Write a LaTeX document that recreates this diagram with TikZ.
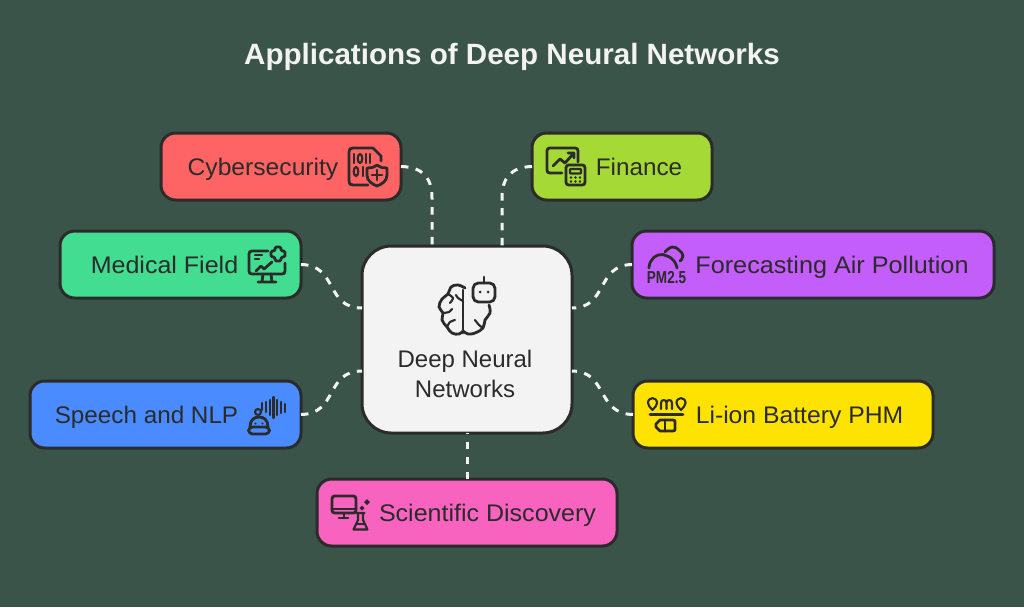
\documentclass[tikz,border=0pt]{standalone}
\usepackage{fontspec}
\setmainfont{Liberation Sans}
\definecolor{bgc}{HTML}{3B5449}
\definecolor{ink}{HTML}{2B2B2B}
\definecolor{linkc}{HTML}{F3F3F3}
\definecolor{redc}{HTML}{FF6464}
\definecolor{limec}{HTML}{A5D936}
\definecolor{mintc}{HTML}{42DD90}
\definecolor{purc}{HTML}{C35EFB}
\definecolor{bluc}{HTML}{4A8BFF}
\definecolor{yelc}{HTML}{FFE300}
\definecolor{pinkc}{HTML}{F763BE}
\definecolor{cenc}{HTML}{F3F3F3}
\tikzset{
  card/.style={draw=ink,line width=2.25pt,rounded corners=11pt,inner sep=0pt,outer sep=0pt},
  dims/.style n args={2}{minimum width=#1*0.75pt,minimum height=#2*0.75pt},
  lab/.style={anchor=base,text=ink,inner sep=0pt,font=\fontsize{18}{22}\selectfont},
  link/.style={draw=linkc,line width=2.25pt,dash pattern=on 5.6pt off 5.6pt},
  ico/.style={draw=ink,line width=2.1pt,line cap=round,line join=round},
  thin ico/.style={draw=ink,line width=1.6pt,line cap=round,line join=round},
  dotm/.style={fill=ink,draw=none},
}
\begin{document}
\begin{tikzpicture}[x=0.75pt,y=-0.75pt]
\useasboundingbox (0,0) rectangle (1024,607);
\fill[bgc] (0,0) rectangle (1024,607);
\node[anchor=base,text=linkc,inner sep=0pt,xscale=1.008,font=\bfseries\fontsize{22}{26}\selectfont] (title) at (512,64) {Applications of Deep Neural Networks};
% boxes
\node[card,dims={210}{187},fill=cenc,rounded corners=22pt] (cen) at (467,339.5) {};
\node[card,dims={240}{67},fill=redc] (cyb) at (281,166.5) {};
\node[card,dims={180}{67},fill=limec] (fin) at (622,166.5) {};
\node[card,dims={241}{67},fill=mintc] (med) at (180.5,264.5) {};
\node[card,dims={362}{67},fill=purc] (air) at (813,264.5) {};
\node[card,dims={271}{67},fill=bluc] (spe) at (165.5,414.5) {};
\node[card,dims={300}{67},fill=yelc] (bat) at (783,414.5) {};
\node[card,dims={300}{67},fill=pinkc] (sci) at (467,512.5) {};
% connector ends on the centre node
\coordinate (c1) at (432,246);
\coordinate (c2) at (502,246);
\coordinate (c3) at (362,308);
\coordinate (c4) at (572,308);
\coordinate (c5) at (362,371);
\coordinate (c6) at (572,371);
% connectors
\draw[link] (cyb.east) .. controls (423,167) and (432,178) .. (432,198) -- (c1);
\draw[link] (fin.west) .. controls (511,167) and (502,178) .. (502,198) -- (c2);
\draw[link] (med.east) .. controls (338,265) and (325,308) .. (c3);
\draw[link] (air.west) .. controls (596,265) and (608,308) .. (c4);
\draw[link] (spe.east) .. controls (338,414) and (325,371) .. (c5);
\draw[link] (bat.west) .. controls (596,414) and (608,371) .. (c6);
\draw[link] (sci.north) -- (cen.south);
% labels
\node[lab,xscale=1.027] (tcyb) at (263,175) {Cybersecurity};
\node[lab,xscale=1.012] (tfin) at (639,175) {Finance};
\node[lab,xscale=1.043] (tmed) at (164.5,273) {Medical Field};
\node[lab,xscale=1.05] (tair) at (832,273) {Forecasting Air Pollution};
\node[lab,xscale=1.011] (tspe) at (146.5,423) {Speech and NLP};
\node[lab,xscale=1.03] (tbat) at (799.5,423) {Li-ion Battery PHM};
\node[lab,xscale=1.043] (tsci) at (487.5,521) {Scientific Discovery};
\node[lab] (tc1) at (465,367) {Deep Neural};
\node[lab] (tc2) at (465,397) {Networks};
% cyber icon
\draw[ico] (368,185) -- (353,185) .. controls (350,185) and (349,184) .. (349,181) -- (349,152) .. controls (349,149) and (350,148) .. (353,148) -- (373,148) -- (381,156) -- (381,161);
\draw[thin ico] (354,154) -- (354,163) (366,154) -- (366,163) (370,154) -- (370,163) (363,167) -- (363,176);
\draw[thin ico] (360,158.5) ellipse (2.3 and 4.5) (356,171.5) ellipse (2.3 and 4.5);
\draw[ico,fill=redc] (377,165) .. controls (381,168) and (384,168) .. (387,168) -- (387,175) .. controls (387,181) and (382,184) .. (377,186) .. controls (372,184) and (367,181) .. (367,175) -- (367,168) .. controls (370,168) and (373,168) .. (377,165) -- cycle;
\draw[ico] (377,170) -- (377,180) (372,175) -- (382,175);
% finance icon
\draw[ico,rounded corners=2pt] (562,173) -- (547,173) -- (547,148) -- (578,148) -- (578,162);
\draw[ico] (553,166) -- (560,159) -- (565,163) -- (574,153) (568,153) -- (574,153) -- (574,158);
\draw[ico,rounded corners=2pt] (566,165) rectangle (585,185);
\draw[thin ico,rounded corners=0.5pt] (570,169) rectangle (581,173.5);
\foreach \xx in {571,575.5,580} \foreach \yy in {177.5,181.5} \fill[dotm] (\xx,\yy) circle (1.4);
% medical icon
\draw[ico] (268,251) -- (252,251) .. controls (250,251) and (249,252) .. (249,254) -- (249,271) .. controls (249,273) and (250,274) .. (252,274) -- (282,274) .. controls (284,274) and (285,273) .. (285,271) -- (285,263);
\draw[ico] (263,274) -- (262,282) (271,274) -- (272,282) (258,282) -- (276,282);
\draw[thin ico] (255,255) -- (262,255) (255,259) -- (259,259);
\draw[ico] (256,271) -- (261,266) -- (264,269) -- (272,262);
\draw[ico,rounded corners=1pt] (275,247) -- (281,247) -- (281,251) -- (285,251) -- (285,257) -- (281,257) -- (281,261) -- (275,261) -- (275,257) -- (271,257) -- (271,251) -- (275,251) -- cycle;
% air icon
\draw[ico] plot[smooth,tension=0.8] coordinates {(649,268) (651,261) (658,255) (667,256) (674,261) (677,268)};
\draw[ico] plot[smooth,tension=0.8] coordinates {(665,252) (672,247) (679,250) (683,256) (680,261)};
\node[anchor=base,text=ink,inner sep=0pt,xscale=0.78,font=\bfseries\fontsize{13}{15}\selectfont] (tpm) at (666.5,283.5) {PM2.5};
% speech icon
\draw[thin ico] (262,403) -- (262,410) (266,402) -- (266,412) (270,400) -- (270,415) (273.5,397) -- (273.5,418) (277,400) -- (277,415) (281,402) -- (281,413) (285,404) -- (285,412);
\draw[thin ico] (258,412) circle (3);
\draw[ico] (250,427) .. controls (250,420) and (254,417) .. (259,417) .. controls (264,417) and (268,420) .. (268,427);
\draw[ico,rounded corners=3pt] (248.5,427) rectangle (269.5,434);
\fill[dotm] (255.5,423.5) circle (1.2) (262.5,423.5) circle (1.2);
% battery icon
\draw[thin ico] (652.5,410) .. controls (650,407) and (648,405.5) .. (648,403) .. controls (648,396.5) and (657,396.5) .. (657,403) .. controls (657,405.5) and (655,407) .. (652.5,410) -- cycle;
\draw[thin ico] (681,410) .. controls (678.5,407) and (676.5,405.5) .. (676.5,403) .. controls (676.5,396.5) and (685.5,396.5) .. (685.5,403) .. controls (685.5,405.5) and (683.5,407) .. (681,410) -- cycle;
\draw[thin ico] (661,409) -- (661,403) .. controls (661,399) and (666.5,399) .. (666.5,403) -- (666.5,409) (666.5,403) .. controls (666.5,399) and (672,399) .. (672,403) -- (672,409);
\draw[ico] (650,414.5) -- (683,414.5);
\draw[ico] (660,420) -- (673,420) .. controls (675,420) and (675,421) .. (675,422) -- (675,429) .. controls (675,430) and (675,431) .. (673,431) -- (660,431) -- (656,427) -- (656,424) -- cycle;
\draw[ico] (665,420) -- (665,431);
% science icon
\draw[ico,rounded corners=2pt] (332,496) rectangle (356,513);
\draw[ico] (332,509) -- (356,509) (344,513) -- (344,518) (339,518) -- (348,518);
\draw[thin ico] (356.5,513) -- (364.5,513) (358,513) -- (358,520) -- (353.5,529.5) -- (367.5,529.5) -- (363,520) -- (363,513);
\draw[thin ico] (356.5,524) -- (364.5,524);
\fill[dotm] (362,505.5) -- (364.5,508) -- (362,510.5) -- (359.5,508) -- cycle;
\fill[dotm] (367,499) -- (370,502) -- (367,505) -- (364,502) -- cycle;
% brain icon
\draw[ico] (463,290) -- (463,333);
\draw[ico] plot[smooth,tension=0.7] coordinates {(465,288) (458,285) (451,287) (448,294) (442,299) (439,307) (443,313) (442,320) (447,327) (452,333) (459,334) (463,331)};
\draw[ico] plot[smooth,tension=0.7] coordinates {(463,331) (468,334) (475,333) (483,328) (485,320) (490,313) (489,305)};
\draw[thin ico] plot[smooth] coordinates {(448,294) (453,298) (450,303)};
\draw[thin ico] plot[smooth] coordinates {(443,313) (449,312) (452,309)};
\draw[thin ico] plot[smooth] coordinates {(447,327) (450,322) (455,320)};
\draw[thin ico] plot[smooth] coordinates {(463,301) (458,298) (456,295)};
\draw[thin ico] plot[smooth] coordinates {(475,320) (479,325) (483,328)};
\draw[ico,rounded corners=4pt] (473,283) rectangle (495,302);
\draw[ico] (484,277) -- (484,283);
\fill[dotm] (480,292) circle (1.5) (488,292) circle (1.5);
\end{tikzpicture}
\end{document}
